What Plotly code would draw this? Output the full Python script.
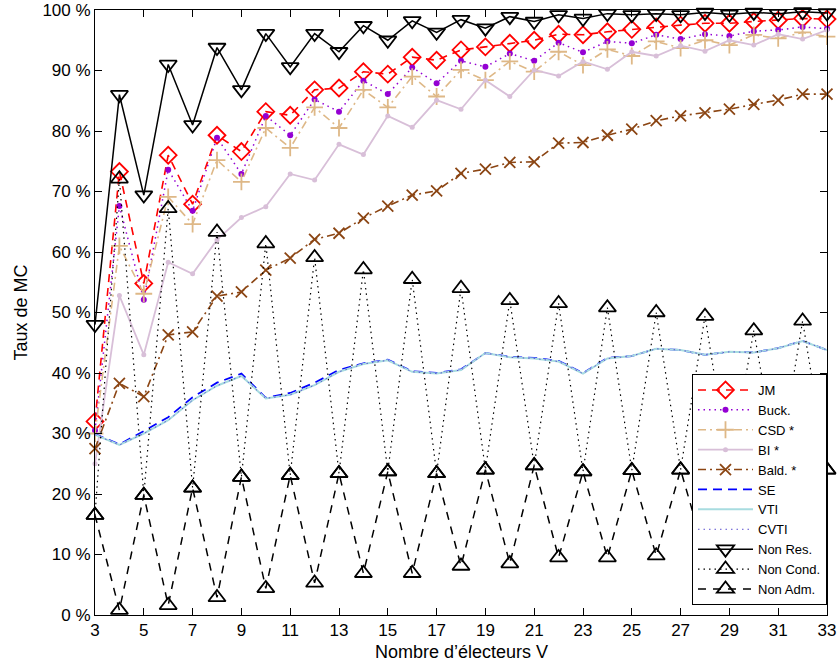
import plotly.graph_objects as go

V = list(range(3, 34))

jm = [32.0, 73.3, 54.8, 76.0, 67.9, 79.3, 76.6, 83.2, 82.6, 86.8, 87.1, 89.8, 89.4, 92.2, 91.7,
      93.4, 93.9, 94.5, 95.0, 96.0, 95.9, 96.4, 96.8, 97.2, 97.5, 97.8, 97.8, 98.1, 98.3, 98.6, 98.5]
buck = [30.5, 67.6, 52.1, 73.6, 66.8, 78.9, 72.9, 82.5, 79.3, 85.2, 83.2, 88.3, 86.1, 90.5, 87.9,
        91.6, 90.6, 92.8, 91.6, 94.6, 93.0, 94.8, 94.5, 95.9, 95.2, 96.0, 95.7, 96.5, 96.7, 97.2, 96.9]
csd = [30.0, 61.0, 53.1, 69.1, 64.6, 75.2, 71.6, 80.5, 77.2, 83.9, 80.5, 86.8, 83.9, 89.0, 85.7,
       90.1, 88.4, 91.5, 89.8, 93.1, 90.9, 93.5, 92.4, 94.8, 93.7, 95.0, 94.2, 95.9, 95.3, 96.3, 95.6]
bi = [25.0, 52.8, 43.0, 58.3, 56.4, 62.0, 65.7, 67.5, 72.9, 71.9, 77.8, 76.1, 82.5, 80.6, 85.1,
      83.6, 88.4, 85.7, 90.1, 89.1, 91.5, 90.2, 93.1, 92.4, 94.1, 93.2, 95.0, 94.2, 96.0, 95.2, 96.7]
bald = [27.5, 38.3, 36.1, 46.3, 46.8, 52.7, 53.4, 57.0, 59.0, 62.1, 63.1, 65.6, 67.6, 69.4, 70.1,
        73.0, 73.7, 74.8, 74.9, 78.0, 78.1, 79.3, 80.3, 81.7, 82.5, 83.0, 83.6, 84.4, 85.1, 86.1, 86.1]
se = [29.9, 28.2, 30.4, 32.7, 36.0, 38.4, 39.9, 35.9, 36.7, 38.4, 40.5, 41.6, 42.2, 40.3, 40.0,
      40.6, 43.3, 42.7, 42.5, 42.0, 40.0, 42.5, 42.8, 44.0, 43.8, 43.0, 43.5, 43.4, 44.1, 45.3, 43.8]
vti = [29.8, 28.1, 30.0, 32.2, 35.5, 37.9, 39.5, 35.8, 36.4, 38.0, 40.2, 41.5, 42.1, 40.2, 39.9,
       40.5, 43.3, 42.6, 42.4, 41.9, 39.9, 42.4, 42.8, 44.0, 43.8, 43.0, 43.5, 43.4, 44.1, 45.3, 43.8]
cvti = [29.8, 28.1, 30.0, 32.2, 35.5, 37.9, 39.5, 35.8, 36.4, 38.0, 40.2, 41.5, 42.1, 40.2, 39.9,
        40.5, 43.3, 42.6, 42.4, 41.9, 39.9, 42.4, 42.8, 44.0, 43.8, 43.0, 43.5, 43.4, 44.1, 45.3, 43.8]
non_res = [48.0, 86.0, 69.4, 91.0, 81.0, 93.8, 86.8, 96.1, 90.6, 96.1, 93.1, 97.4, 95.0, 98.2, 96.3,
           98.4, 97.0, 98.9, 98.1, 99.2, 98.6, 99.4, 99.2, 99.4, 99.2, 99.6, 99.3, 99.6, 99.4, 99.7, 99.5]
non_cond = [16.5, 72.1, 19.8, 67.2, 21.0, 63.3, 22.8, 61.4, 23.1, 59.1, 23.4, 57.1, 23.7, 55.5, 23.4,
            54.0, 24.0, 52.0, 24.7, 51.5, 23.7, 50.8, 23.9, 50.0, 24.0, 49.4, 24.0, 47.0, 24.0, 48.6, 24.0]
non_adm = [16.5, 0.8, 19.8, 1.6, 21.0, 2.9, 22.8, 4.4, 23.1, 5.3, 23.4, 6.9, 23.7, 6.9, 23.4,
           8.1, 24.0, 8.5, 24.7, 9.5, 23.7, 9.5, 23.9, 9.8, 24.0, 10.0, 24.0, 10.5, 24.0, 10.8, 24.0]

x_ticks = list(range(3, 34, 2))
y_ticks = list(range(0, 101, 10))
y_ticktext = [f"{v} %" for v in y_ticks]

FONT = "Liberation Sans, Arial, sans-serif"

series = [
    ("JM", jm, dict(color="#ff0000", width=1.6, dash="8px,6px"),
     dict(symbol="diamond-open", size=13, color="#ff0000", line=dict(width=1.8, color="#ff0000"))),
    ("Buck.", buck, dict(color="#9400d3", width=1.5, dash="1.5px,4px"),
     dict(symbol="circle", size=6, color="#9400d3")),
    ("CSD *", csd, dict(color="#deb887", width=1.6, dash="8px,4px,2px,4px"),
     dict(symbol="cross-thin-open", size=12, color="#deb887", line=dict(width=1.8, color="#deb887"))),
    ("BI *", bi, dict(color="#d8bfd8", width=1.8, dash="solid"),
     dict(symbol="circle", size=5, color="#d8bfd8")),
    ("Bald. *", bald, dict(color="#8b4513", width=1.6, dash="8px,4px,2px,4px"),
     dict(symbol="x-thin-open", size=11, color="#8b4513", line=dict(width=1.8, color="#8b4513"))),
    ("SE", se, dict(color="#0000ff", width=1.8, dash="9px,6px"), None),
    ("VTI", vti, dict(color="#a8dce0", width=2.0, dash="solid"), None),
    ("CVTI", cvti, dict(color="#5a4fcf", width=1.0, dash="1.5px,4px"), None),
    ("Non Res.", non_res, dict(color="#000000", width=1.5, dash="solid"),
     dict(symbol="triangle-down-open", size=15, color="#000000", line=dict(width=1.8, color="#000000"))),
    ("Non Cond.", non_cond, dict(color="#000000", width=1.2, dash="1.5px,4px"),
     dict(symbol="triangle-up-open", size=15, color="#000000", line=dict(width=1.8, color="#000000"))),
    ("Non Adm.", non_adm, dict(color="#000000", width=1.5, dash="8px,7px"),
     dict(symbol="triangle-up-open", size=15, color="#000000", line=dict(width=1.8, color="#000000"))),
]

fig = go.Figure()
for name, vals, line, marker in series:
    kw = dict(x=V, y=vals, name=name, line=line, cliponaxis=False)
    if marker is None:
        kw["mode"] = "lines"
    else:
        kw["mode"] = "lines+markers"
        kw["marker"] = marker
    fig.add_trace(go.Scatter(**kw))

axis_common = dict(
    showgrid=False, zeroline=False, showline=True, linecolor="black", linewidth=1,
    mirror="ticks", ticks="inside", ticklen=7, tickcolor="black", tickwidth=1,
    automargin=False,
    tickfont=dict(family=FONT, size=17, color="black"),
)

fig.update_xaxes(range=[3, 33], tickvals=x_ticks, **axis_common)
fig.update_yaxes(range=[0, 100], tickvals=y_ticks, ticktext=y_ticktext, **axis_common)

fig.add_annotation(text="Nombre d’électeurs V", xref="paper", yref="paper", x=0.5, y=0,
                   yshift=-37, showarrow=False, yanchor="middle",
                   font=dict(family=FONT, size=18, color="black"))
fig.add_annotation(text="Taux de MC", xref="paper", yref="paper", x=0, y=0.5, xshift=-75,
                   showarrow=False, textangle=-90, xanchor="center",
                   font=dict(family=FONT, size=18, color="black"))

fig.update_layout(
    width=837, height=663,
    margin=dict(l=95, r=10, t=10, b=48, autoexpand=False),
    paper_bgcolor="white", plot_bgcolor="white",
    font=dict(family=FONT, size=13, color="black"),
    showlegend=True,
    legend=dict(x=1, xanchor="right", y=0.0165, yanchor="bottom",
                bgcolor="white", bordercolor="black", borderwidth=1,
                font=dict(family=FONT, size=13, color="black"),
                itemwidth=55, tracegroupgap=0),
)

fig.write_html(
    "out.html",
    config={"displayModeBar": False},
    post_script="document.body.style.margin='0';document.body.style.padding='0';document.body.style.overflow='hidden';",
)
